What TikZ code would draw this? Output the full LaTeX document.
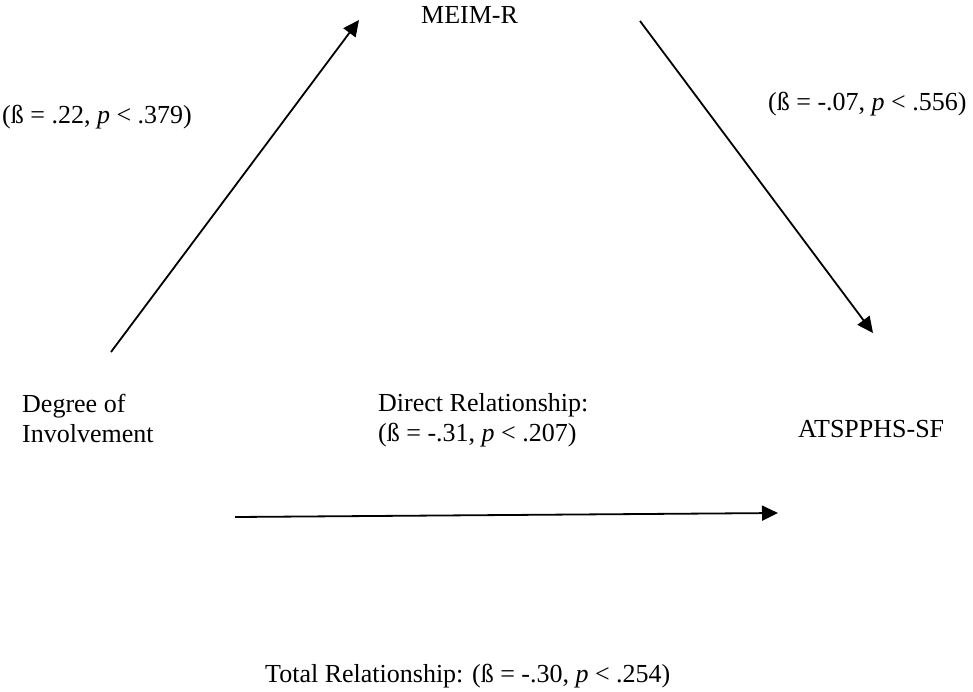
\documentclass[tikz,border=0pt]{standalone}
\usepackage{fontspec}
\setmainfont{Liberation Serif}
\usetikzlibrary{arrows.meta}
\begin{document}
\begin{tikzpicture}[x=1pt,y=-1pt,
  lbl/.style={font=\fontsize{26}{29.5}\selectfont, inner sep=0pt, anchor=base west},
  blk/.style={font=\fontsize{26}{29.5}\selectfont, inner sep=0pt, anchor=north west, align=left},
  arr/.style={line width=1.8pt, -{Triangle[length=16pt,width=15pt]}}]
\useasboundingbox (0,0) rectangle (973,691);
% texts
\node[lbl] (meim) at (421,23) {MEIM-R};
\node[lbl] (b1) at (2,123) {(ß = .22, \textit{p} < .379)};
\node[lbl] (b2) at (768,110) {(ß = -.07, \textit{p} < .556)};
\node[blk] (doi) at (22,394) {Degree of\\Involvement};
\node[blk] (dir) at (378,393.5) {Direct Relationship:\\(ß = -.31, \textit{p} < .207)};
\node[lbl] (atsp) at (798,437) {ATSPPHS-SF};
\node[lbl] (tot) at (265,682) {Total Relationship: (ß = -.30, \textit{p} < .254)};
% arrow end points
\coordinate (a1s) at (111,352);
\coordinate (a1e) at (359,20);
\coordinate (a2s) at (640,21);
\coordinate (a2e) at (873,333);
\coordinate (a3s) at (235,517);
\coordinate (a3e) at (778,513);
\draw[arr] (a1s) -- (a1e);
\draw[arr] (a2s) -- (a2e);
\draw[arr] (a3s) -- (a3e);
\end{tikzpicture}
\end{document}
